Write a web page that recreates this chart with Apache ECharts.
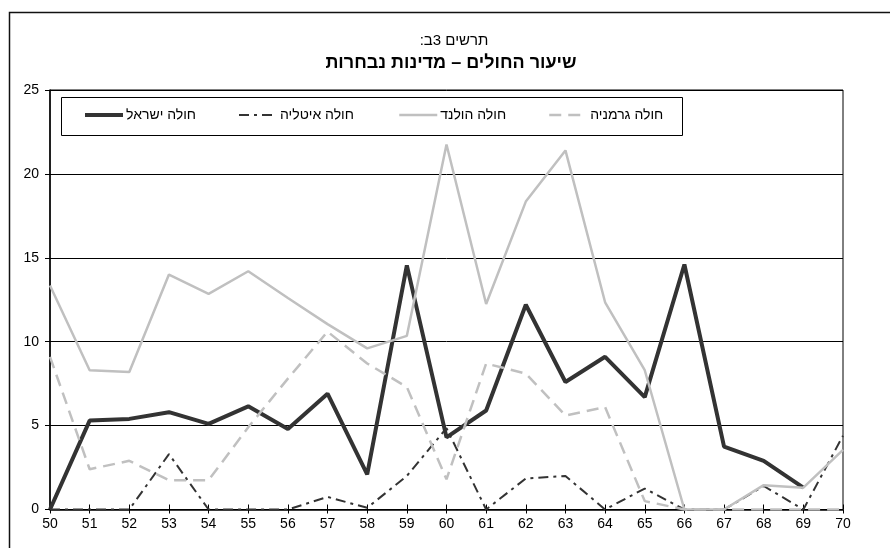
<!DOCTYPE html>
<html>
<head>
<meta charset="utf-8">
<script src="https://cdn.jsdelivr.net/npm/echarts@6/dist/echarts.min.js"></script>
<style>
  html, body { margin: 0; padding: 0; background: #fff; }
  #chart { width: 890px; height: 548px; }
</style>
</head>
<body>
<div id="chart"></div>
<script>
// years on the x axis
const years = ['50', '51', '52', '53', '54', '55', '56', '57', '58', '59', '60',
  '61', '62', '63', '64', '65', '66', '67', '68', '69', '70']

const israel = [0, 5.3, 5.4, 5.8, 5.1, 6.15, 4.8, 6.9, 2.1, 14.55, 4.3, 5.9, 12.2, 7.6, 9.1, 6.7, 14.6, 3.75, 2.9, 1.3, null]
const italy = [0, 0, 0, 3.3, 0, 0, 0, 0.75, 0.1, 2.0, 4.85, 0, 1.85, 2.0, 0, 1.25, 0, 0, 1.4, 0, 4.4]
const holland = [13.35, 8.3, 8.2, 14.0, 12.85, 14.2, 12.6, 11.05, 9.6, 10.35, 21.75, 12.25, 18.35, 21.4, 12.35, 8.3, 0, 0, 1.45, 1.3, 3.55]
const germany = [9.1, 2.4, 2.9, 1.75, 1.75, 4.9, 7.8, 10.6, 8.7, 7.3, 1.8, 8.7, 8.1, 5.6, 6.1, 0.5, 0, 0, 0, 0, 0]

const yTicks = [0, 5, 10, 15, 20, 25]

const names = ['חולה ישראל', 'חולה איטליה', 'חולה הולנד', 'חולה גרמניה']
const legendX = [83, 238, 398, 548]

// Hebrew labels read right to left
const rtl = s => '\u202B' + s + '\u202C'

const font = '"Liberation Sans", Arial, sans-serif'
const dark = '#333333'
const light = '#c0c0c0'

const styles = [
  { color: dark, width: 4, type: 'solid' },
  { color: dark, width: 2, type: [10, 5, 3, 5] },
  { color: light, width: 2.5, type: 'solid' },
  { color: light, width: 2.5, type: [12, 7] }
]
const values = [israel, italy, holland, germany]

const chart = echarts.init(document.getElementById('chart'), null, { renderer: 'canvas' })

chart.setOption({
  animation: false,
  textStyle: { fontFamily: font, color: '#000' },
  title: [
    {
      text: rtl('תרשים 3ב:'),
      left: 454, top: 33, textAlign: 'center', padding: 0,
      textStyle: { fontSize: 15, fontWeight: 'normal', color: '#000', fontFamily: font }
    },
    {
      text: rtl('שיעור החולים – מדינות נבחרות'),
      left: 451, top: 54, textAlign: 'center', padding: 0,
      textStyle: { fontSize: 18, fontWeight: 'bold', color: '#000', fontFamily: font }
    }
  ],
  graphic: [
    {
      type: 'rect', silent: true, z: -1,
      shape: { x: 9.5, y: 12.5, width: 1000, height: 1000 },
      style: { fill: 'none', stroke: '#111', lineWidth: 1.5 }
    },
    {
      type: 'rect', silent: true, z: 10,
      shape: { x: 61.5, y: 97.5, width: 621, height: 38 },
      style: { fill: '#fff', stroke: '#000', lineWidth: 1 }
    }
  ],
  legend: names.map((n, i) => ({
    data: [n],
    left: legendX[i], top: 108, padding: 0, z: 20,
    itemWidth: 38, itemHeight: 14, itemGap: 0,
    itemStyle: { opacity: 0 },
    lineStyle: { width: styles[i].width, type: styles[i].type, color: styles[i].color },
    formatter: name => rtl(name),
    textStyle: { fontSize: 14, color: '#000', fontFamily: font, padding: [0, 0, 0, -2] }
  })),
  grid: {
    left: 50, right: 47, top: 90, bottom: 38.5,
    show: true, borderColor: '#000', borderWidth: 1
  },
  xAxis: [
    {
      type: 'category', data: years, boundaryGap: false,
      axisLine: { lineStyle: { color: '#000', width: 1.5 } },
      axisTick: { show: true, length: 4, lineStyle: { color: '#000' } },
      axisLabel: { fontSize: 14, color: '#000', margin: 8, fontFamily: font }
    },
    {
      type: 'category', data: years, boundaryGap: false, position: 'bottom',
      axisLine: { show: false },
      axisTick: { show: true, inside: true, length: 5, lineStyle: { color: '#000' } },
      axisLabel: { show: false }
    }
  ],
  yAxis: {
    type: 'value', min: yTicks[0], max: yTicks[yTicks.length - 1], interval: 5,
    axisLine: { show: true, lineStyle: { color: '#000', width: 1.5 } },
    axisTick: { show: true, length: 5, lineStyle: { color: '#000' } },
    axisLabel: { fontSize: 14, color: '#000', margin: 11, fontFamily: font },
    splitLine: { lineStyle: { color: '#000', width: 1 } }
  },
  series: names.map((n, i) => ({
    name: n, type: 'line', data: values[i], symbol: 'none',
    color: styles[i].color,
    lineStyle: { color: styles[i].color, width: styles[i].width, type: styles[i].type }
  }))
})
</script>
</body>
</html>
